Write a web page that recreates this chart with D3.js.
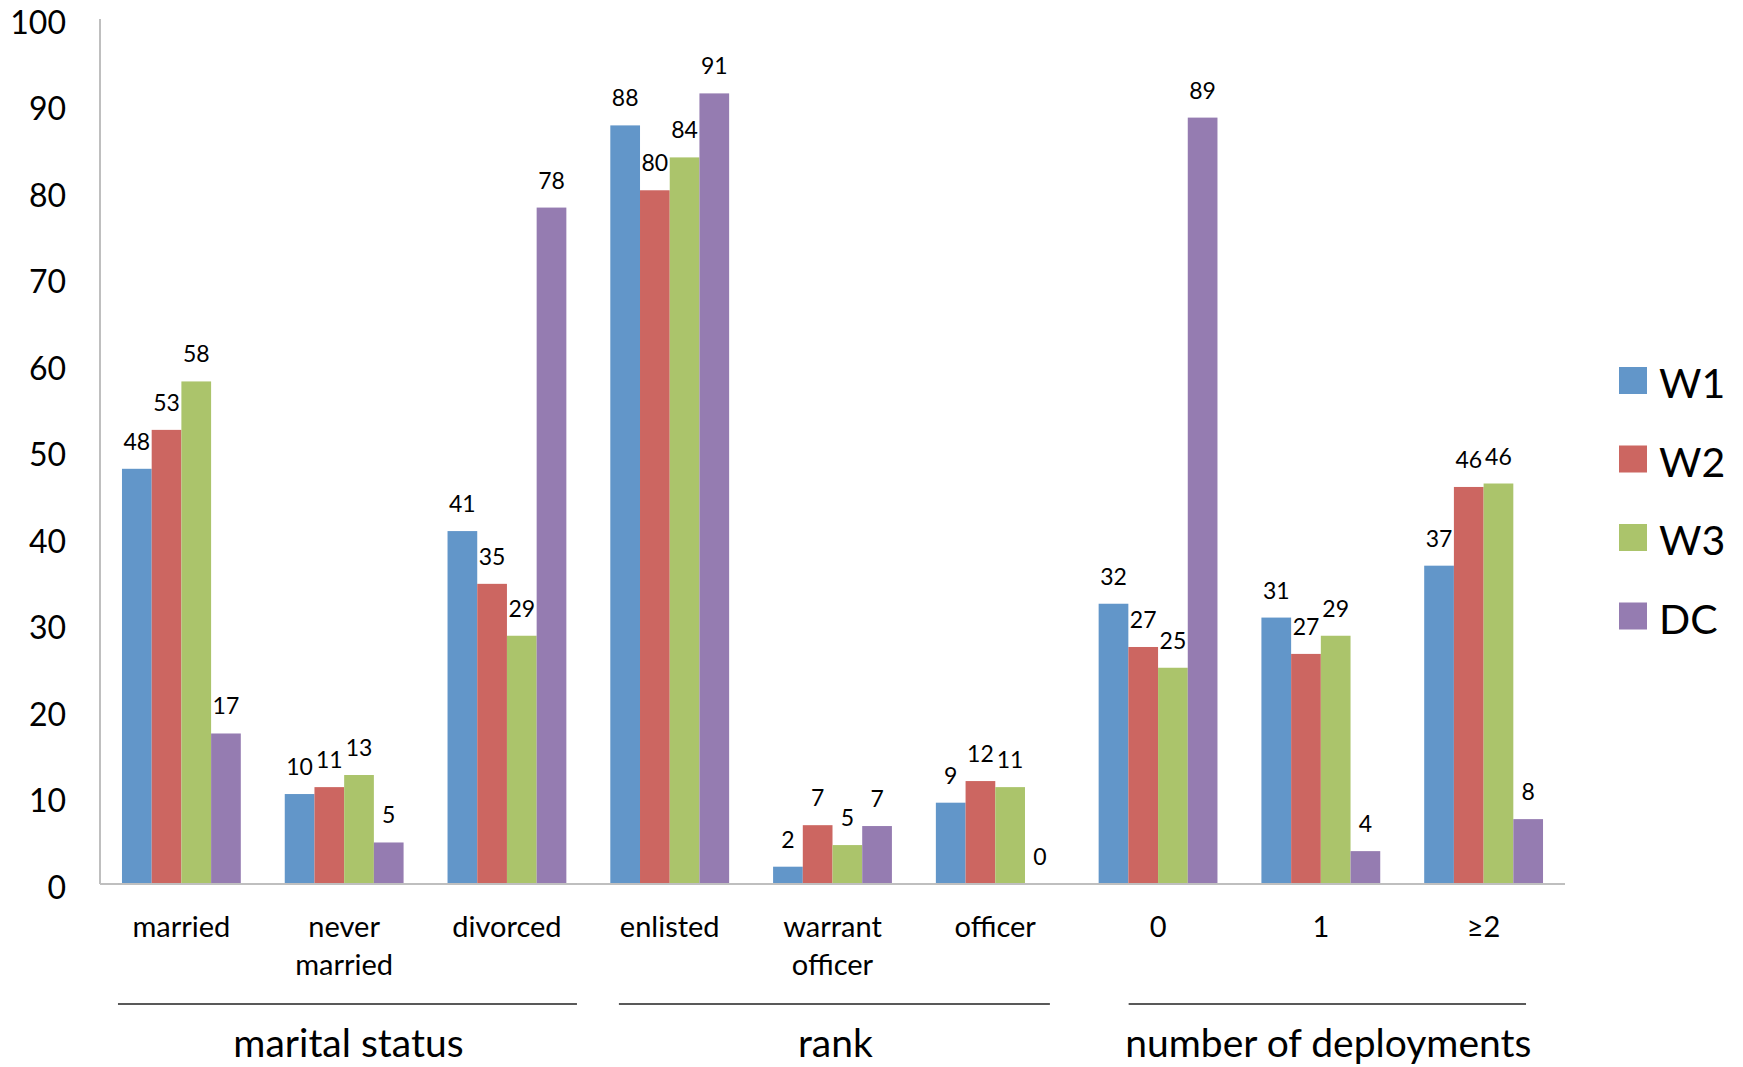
<!DOCTYPE html>
<html><head><meta charset="utf-8">
<script src="https://cdn.jsdelivr.net/npm/d3@7"></script>
<style>html,body{margin:0;padding:0;background:#fff;}svg{display:block;font-family:Lato,"Open Sans",sans-serif;}</style>
</head><body>
<svg id="c" width="1743" height="1067"></svg>
<script>
const categories = ["married", "never married", "divorced", "enlisted", "warrant officer", "officer", "0", "1", "≥2"];
const categoryLines = [["married"], ["never", "married"], ["divorced"], ["enlisted"], ["warrant", "officer"], ["officer"], ["0"], ["1"], ["≥2"]];
const seriesNames = ["W1", "W2", "W3", "DC"];
const seriesColors = ["#6296c9", "#cc6661", "#abc46b", "#957cb1"];
const W1 = [48.0, 10.4, 40.8, 87.7, 2.0, 9.4, 32.4, 30.8, 36.8];
const W2 = [52.5, 11.2, 34.7, 80.2, 6.8, 11.9, 27.4, 26.6, 45.9];
const W3 = [58.1, 12.6, 28.7, 84.0, 4.5, 11.2, 25.0, 28.7, 46.3];
const DC = [17.4, 4.8, 78.2, 91.4, 6.7, 0, 88.6, 3.8, 7.5];
const W1labels = ["48", "10", "41", "88", "2", "9", "32", "31", "37"];
const W2labels = ["53", "11", "35", "80", "7", "12", "27", "27", "46"];
const W3labels = ["58", "13", "29", "84", "5", "11", "25", "29", "46"];
const DClabels = ["17", "5", "78", "91", "7", "0", "89", "4", "8"];
const groupNames = ["marital status", "rank", "number of deployments"];
const groupFrom = ["married", "enlisted", "0"];
const groupTo = ["divorced", "officer", "≥2"];
const yTicks = [0, 10, 20, 30, 40, 50, 60, 70, 80, 90, 100];

// layout only: bracket line insets relative to the group's band edges
const groupLineInset = [[-4, 10.6], [8.6, -4.8], [30, -17]];

const seriesValues = [W1, W2, W3, DC];
const seriesLabels = [W1labels, W2labels, W3labels, DClabels];

const svg = d3.select("#c");
const pLeft = 100, pRight = 1565, pTop = 19, pBottom = 884;

const x = d3.scaleBand().domain(categories).range([pLeft, pRight]).paddingInner(0.27).paddingOuter(0.135);
const xs = d3.scaleBand().domain(seriesNames).range([0, x.bandwidth()]).padding(0);
const y = d3.scaleLinear().domain([0, 100]).range([pBottom, pTop]);

// y tick labels
svg.append("g").selectAll("text").data(yTicks).join("text")
  .attr("x", 66).attr("y", d => y(d) + 3).attr("dy", "0.36em")
  .attr("text-anchor", "end").attr("font-size", 32).attr("fill", "#000")
  .text(d => d);

// bars
const rows = categories.map((c, i) => ({c, i}));
seriesNames.forEach((s, si) => {
  const g = svg.append("g");
  g.selectAll("rect").data(rows).join("rect")
    .attr("x", d => x(d.c) + xs(s))
    .attr("y", d => y(seriesValues[si][d.i]))
    .attr("width", xs.bandwidth())
    .attr("height", d => y(0) - y(seriesValues[si][d.i]))
    .attr("fill", seriesColors[si]);
  g.selectAll("text").data(rows).join("text")
    .attr("x", d => x(d.c) + xs(s) + xs.bandwidth() / 2)
    .attr("y", d => y(seriesValues[si][d.i]) - 19)
    .attr("text-anchor", "middle").attr("font-size", 23).attr("fill", "#000")
    .text(d => seriesLabels[si][d.i]);
});

// axes lines
svg.append("line").attr("x1", pLeft).attr("x2", pLeft).attr("y1", pTop).attr("y2", pBottom)
  .attr("stroke", "#bfbfbf").attr("stroke-width", 2);
svg.append("line").attr("x1", pLeft).attr("x2", pRight).attr("y1", pBottom).attr("y2", pBottom)
  .attr("stroke", "#bfbfbf").attr("stroke-width", 2);

// category labels
const cl = svg.append("g").selectAll("text").data(rows).join("text")
  .attr("x", d => x(d.c) + x.bandwidth() / 2)
  .attr("y", 937).attr("text-anchor", "middle").attr("font-size", 29).attr("fill", "#000");
cl.each(function(d) {
  const t = d3.select(this);
  categoryLines[d.i].forEach((ln, k) => {
    t.append("tspan").attr("x", x(d.c) + x.bandwidth() / 2).attr("dy", k === 0 ? 0 : 38).text(ln);
  });
});

// group lines & labels
const groups = groupNames.map((name, i) => ({
  name,
  x1: x(groupFrom[i]) + groupLineInset[i][0],
  x2: x(groupTo[i]) + x.bandwidth() + groupLineInset[i][1]
}));
const gg = svg.append("g").selectAll("g").data(groups).join("g");
gg.append("line")
  .attr("x1", d => d.x1).attr("x2", d => d.x2)
  .attr("y1", 1004).attr("y2", 1004).attr("stroke", "#595959").attr("stroke-width", 2);
gg.append("text")
  .attr("x", d => (d.x1 + d.x2) / 2 + 1)
  .attr("y", 1057).attr("text-anchor", "middle").attr("font-size", 39).attr("fill", "#000")
  .text(d => d.name);

// legend
const lg = svg.append("g").selectAll("g").data(seriesNames).join("g")
  .attr("transform", (d, i) => `translate(1619, ${367 + i * 78.5})`);
lg.append("rect").attr("width", 28).attr("height", 27).attr("fill", (d, i) => seriesColors[i]);
lg.append("text").attr("x", 40).attr("y", 31).attr("font-size", 41).attr("fill", "#000").text(d => d);
</script>
</body></html>
